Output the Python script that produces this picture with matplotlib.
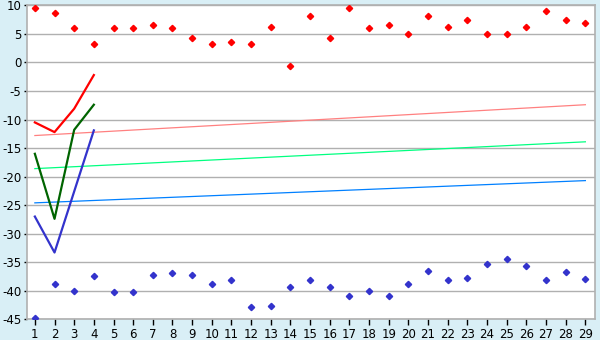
import numpy as np
import matplotlib
matplotlib.use('Agg')
import matplotlib.pyplot as plt

plt.rcParams['axes.unicode_minus'] = False

x = np.arange(1, 30)

red_pts = [9.5, 8.6, 6.1, 3.3, 6.1, 6.1, 6.5, 6.1, 4.3, 3.3, 3.6, 3.3, 6.3, -0.6,
           8.1, 4.3, 9.6, 6.1, 6.5, 5.0, 8.1, 6.3, 7.5, 5.0, 5.0, 6.3, 9.1, 7.5, 7.0]
blue_pts = [-44.7, -38.9, -40.0, -37.5, -40.3, -40.3, -37.2, -36.9, -37.2, -38.8,
            -38.2, -42.8, -42.6, -39.3, -38.2, -39.3, -41.0, -40.0, -41.0, -38.9,
            -36.5, -38.2, -37.7, -35.3, -34.4, -35.7, -38.2, -36.7, -37.9]

x_short = [1, 2, 3, 4]
red_line = [-10.5, -12.2, -8.1, -2.2]
green_line = [-16.0, -27.4, -11.8, -7.4]
blue_line = [-27.0, -33.3, -22.6, -11.9]

# trend lines, values at x=1 and x=29
x_trend = [1, 29]
red_trend = [-12.8, -7.4]
green_trend = [-18.6, -13.9]
blue_trend = [-24.6, -20.7]

fig = plt.figure(figsize=(6, 3.4), dpi=100)
fig.patch.set_facecolor('#d9eff6')
ax = fig.add_axes([0.045, 0.061, 0.947, 0.923])
ax.set_facecolor('white')

for y in range(-45, 11, 5):
    ax.axhline(y, color='#b0b0b0', lw=1.0, zorder=1)

ax.plot(x_trend, red_trend, color='#ff8080', lw=0.9, zorder=2)
ax.plot(x_trend, green_trend, color='#00ff80', lw=0.9, zorder=2)
ax.plot(x_trend, blue_trend, color='#0080ff', lw=0.9, zorder=2)

ax.plot(x_short, red_line, color='#ff0000', lw=1.6, zorder=3)
ax.plot(x_short, green_line, color='#006400', lw=1.6, zorder=3)
ax.plot(x_short, blue_line, color='#3333cc', lw=1.6, zorder=3)

ax.plot(x, red_pts, ls='none', marker='D', ms=3.2, color='#ff0000', zorder=4)
ax.plot(x, blue_pts, ls='none', marker='D', ms=3.2, color='#3333cc', zorder=4)

ax.set_xlim(0.6, 29.5)
ax.set_ylim(-45, 10)
ax.set_xticks(x)
ax.set_yticks(range(-45, 11, 5))
ax.tick_params(axis='x', length=4, width=1, color='black', labelsize=8.5, pad=2)
ax.tick_params(axis='y', length=2, width=1, color='black', labelsize=8.5, pad=2)
for s in ax.spines.values():
    s.set_color('#b0b0b0')
    s.set_linewidth(1.2)

fig.savefig('out.png', dpi=100, facecolor=fig.get_facecolor())
